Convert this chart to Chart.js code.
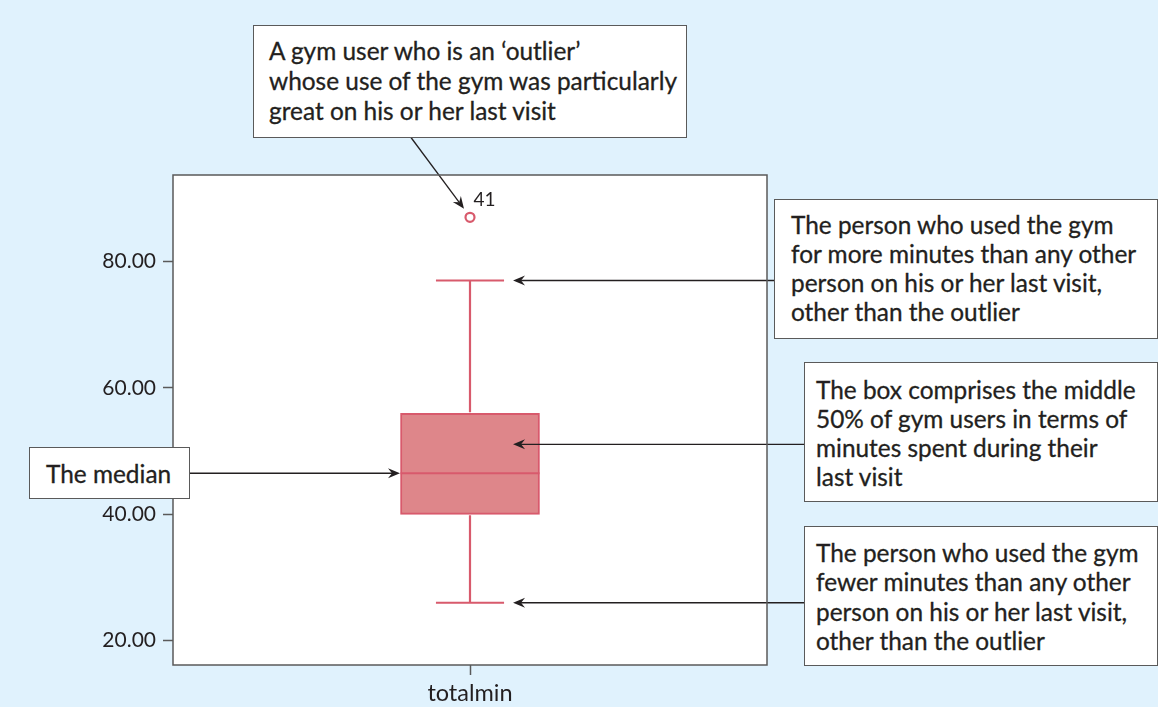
<!DOCTYPE html>
<html><head><meta charset="utf-8">
<script src="https://cdn.jsdelivr.net/npm/chart.js@4"></script>
<style>
html,body{margin:0;padding:0;background:#e0f2fd;}
#wrap{position:relative;width:1158px;height:707px;overflow:hidden;}
#c{position:absolute;left:0;top:0;}
.note{position:absolute;box-sizing:border-box;background:#fff;border:1.5px solid #5a5a5a;font-family:Lato,"Noto Sans",sans-serif;font-size:24.4px;color:#231f20;white-space:nowrap;-webkit-text-stroke:0.3px #231f20;}
</style></head>
<body>
<div id="wrap">
<canvas id="c" width="1158" height="707"></canvas>
<div class="note" style="left:253px;top:25px;width:434px;height:113px;padding:10px 0 0 15px;line-height:30px;">A gym user who is an ‘outlier’<br>whose use of the gym was particularly<br>great on his or her last visit</div>
<div class="note" style="left:774px;top:199px;width:384px;height:140px;padding:10px 0 0 16px;line-height:29px;">The person who used the gym<br>for more minutes than any other<br>person on his or her last visit,<br>other than the outlier</div>
<div class="note" style="left:804px;top:362px;width:354px;height:140px;padding:12px 0 0 11px;line-height:29px;">The box comprises the middle<br>50% of gym users in terms of<br>minutes spent during their<br>last visit</div>
<div class="note" style="left:804px;top:526px;width:354px;height:140px;padding:11px 0 0 11px;line-height:29.3px;">The person who used the gym<br>fewer minutes than any other<br>person on his or her last visit,<br>other than the outlier</div>
<div class="note" style="left:29px;top:447px;width:161px;height:52px;padding:11px 0 0 16px;line-height:29px;">The median</div>
</div>
<script>
// ---- data ----
const categories = ['totalmin'];
const boxQ1 = [40];
const boxQ3 = [56];
const medians = [46.5];
const whiskerLow = [26];
const whiskerHigh = [77];
const outlierValues = [87];
const outlierLabels = ['41'];
const yTickValues = [20, 40, 60, 80];

const boxFill = '#de868a';
const boxLine = '#d85a6c';
const inkColor = '#231f20';

function drawArrow(ctx, x1, y1, x2, y2) {
  const ang = Math.atan2(y2 - y1, x2 - x1);
  const L = 12, W = 5, N = 8;
  const cos = Math.cos(ang), sin = Math.sin(ang);
  ctx.save();
  ctx.strokeStyle = inkColor;
  ctx.fillStyle = inkColor;
  ctx.lineWidth = 1.3;
  ctx.beginPath();
  ctx.moveTo(x1, y1);
  ctx.lineTo(x2 - cos * N, y2 - sin * N);
  ctx.stroke();
  ctx.beginPath();
  ctx.moveTo(x2, y2);
  ctx.lineTo(x2 - cos * L - sin * W, y2 - sin * L + cos * W);
  ctx.lineTo(x2 - cos * N, y2 - sin * N);
  ctx.lineTo(x2 - cos * L + sin * W, y2 - sin * L - cos * W);
  ctx.closePath();
  ctx.fill();
  ctx.restore();
}

const plotBg = {
  id: 'plotBg',
  beforeDraw(chart) {
    const {ctx, chartArea: a} = chart;
    ctx.save();
    ctx.fillStyle = '#ffffff';
    ctx.fillRect(a.left, a.top, a.right - a.left, a.bottom - a.top);
    ctx.restore();
  },
  afterDraw(chart) {
    const {ctx, chartArea: a} = chart;
    ctx.save();
    ctx.strokeStyle = '#5a5a5a';
    ctx.lineWidth = 1.5;
    ctx.strokeRect(a.left, a.top, a.right - a.left, a.bottom - a.top);
    ctx.restore();
  }
};

const boxParts = {
  id: 'boxParts',
  afterDatasetsDraw(chart) {
    const ctx = chart.ctx;
    const y = chart.scales.y;
    const bars = chart.getDatasetMeta(0).data;
    const pts = chart.getDatasetMeta(1).data;
    ctx.save();
    bars.forEach((bar, i) => {
      const cx = bar.x, w = bar.width;
      const capHalf = w * 0.245;
      ctx.strokeStyle = boxLine;
      ctx.lineWidth = 2.2;
      ctx.beginPath();
      ctx.moveTo(cx, y.getPixelForValue(whiskerHigh[i]));
      ctx.lineTo(cx, y.getPixelForValue(boxQ3[i]) - 1);
      ctx.moveTo(cx, y.getPixelForValue(boxQ1[i]) + 1);
      ctx.lineTo(cx, y.getPixelForValue(whiskerLow[i]));
      ctx.moveTo(cx - capHalf, y.getPixelForValue(whiskerHigh[i]));
      ctx.lineTo(cx + capHalf, y.getPixelForValue(whiskerHigh[i]));
      ctx.moveTo(cx - capHalf, y.getPixelForValue(whiskerLow[i]));
      ctx.lineTo(cx + capHalf, y.getPixelForValue(whiskerLow[i]));
      ctx.stroke();
      ctx.lineWidth = 2;
      ctx.beginPath();
      ctx.moveTo(cx - w / 2, y.getPixelForValue(medians[i]));
      ctx.lineTo(cx + w / 2, y.getPixelForValue(medians[i]));
      ctx.stroke();

      // annotation arrows
      const tipX = cx + capHalf + 9;
      drawArrow(ctx, 774, y.getPixelForValue(whiskerHigh[i]), tipX, y.getPixelForValue(whiskerHigh[i]));
      drawArrow(ctx, 804, 444.3, tipX, 444.3);
      drawArrow(ctx, 804, y.getPixelForValue(whiskerLow[i]), tipX, y.getPixelForValue(whiskerLow[i]));
      drawArrow(ctx, 190, y.getPixelForValue(medians[i]), cx - w / 2 - 0.5, y.getPixelForValue(medians[i]));
    });
    pts.forEach((p, j) => {
      ctx.fillStyle = inkColor;
      ctx.font = '19px Lato, "Noto Sans", sans-serif';
      ctx.textBaseline = 'alphabetic';
      ctx.textAlign = 'left';
      ctx.fillText(outlierLabels[j], p.x + 3.5, p.y - 11);
      drawArrow(ctx, 411, 137.5, p.x - 6, p.y - 8.6);
    });
    ctx.restore();
  }
};

new Chart(document.getElementById('c'), {
  type: 'bar',
  data: {
    labels: categories,
    datasets: [
      {
        type: 'bar',
        data: categories.map((c, i) => [boxQ1[i], boxQ3[i]]),
        backgroundColor: boxFill,
        borderColor: boxLine,
        borderWidth: 2,
        borderSkipped: false,
        barThickness: 139
      },
      {
        type: 'scatter',
        data: outlierValues.map((v, i) => ({x: categories[0], y: v})),
        pointRadius: 4.5,
        pointBorderWidth: 2.2,
        borderColor: boxLine,
        backgroundColor: '#ffffff',
        pointHoverRadius: 4.5
      }
    ]
  },
  options: {
    responsive: false,
    animation: false,
    devicePixelRatio: 1,
    layout: {padding: {top: 175, right: 391, left: 0, bottom: 0}},
    plugins: {legend: {display: false}, tooltip: {enabled: false}},
    scales: {
      x: {
        type: 'category',
        offset: true,
        grid: {display: true, offset: false, drawOnChartArea: false, drawTicks: true, tickLength: 10, tickColor: '#5a5a5a', tickWidth: 1.5},
        border: {display: false},
        ticks: {font: {family: 'Lato', size: 23.5}, color: '#231f20', padding: 4},
        afterFit(s) { s.height = 42; }
      },
      y: {
        min: 16.15,
        max: 93.7,
        grid: {display: true, drawOnChartArea: false, drawTicks: true, tickLength: 10, tickColor: '#5a5a5a', tickWidth: 1.5},
        border: {display: false},
        afterBuildTicks(s) { s.ticks = yTickValues.map(v => ({value: v})); },
        ticks: {font: {family: 'Lato', size: 21}, color: '#231f20', padding: 7, callback: v => Number(v).toFixed(2)},
        afterFit(s) { s.width = 173; }
      }
    }
  },
  plugins: [plotBg, boxParts]
});
</script>
</body></html>
